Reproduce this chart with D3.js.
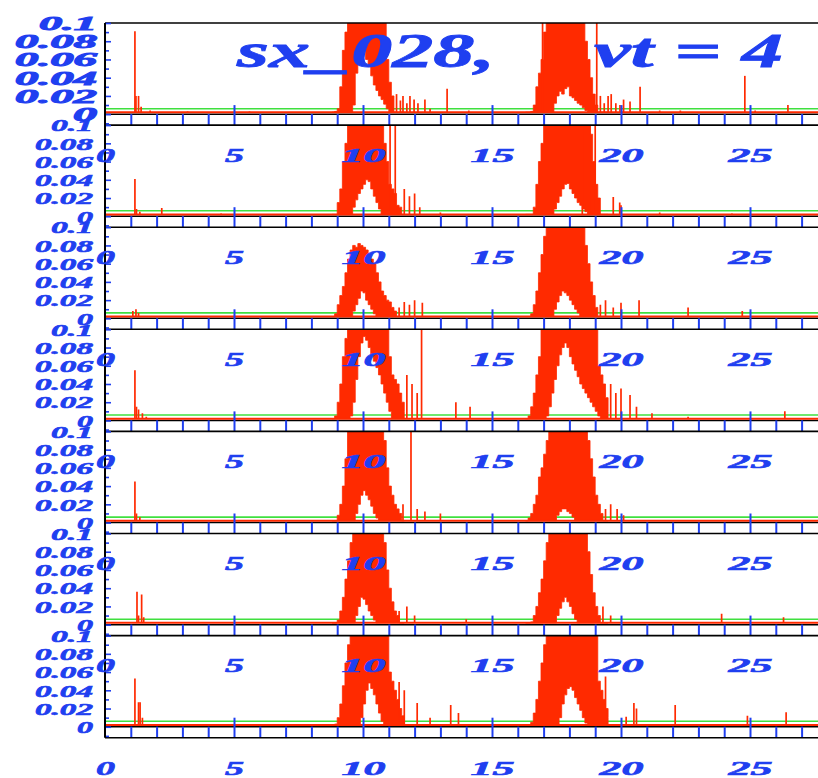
<!DOCTYPE html>
<html><head><meta charset="utf-8">
<script src="https://cdn.jsdelivr.net/npm/d3@7"></script>
<style>body{margin:0;background:#fff}svg{display:block}</style>
</head><body>
<svg id="chart" width="818" height="778"></svg>
<script>
// ---------------- data ----------------
const titleLeft = "sx_028,";
const titleRight = "vt = 4";
const xTickLabels = [0, 5, 10, 15, 20, 25];
const yTickLabels = [0, 0.02, 0.04, 0.06, 0.08, 0.1];
const baselineLevel = 0.002;   // red noise floor
const greenLevel = 0.006;      // green threshold line

const gridA = [8.8,8.9,9.0,9.1,9.2,9.3,9.4,9.5,9.6,9.7,9.8,9.9,10.0,10.1,10.2,10.3,10.4,10.5,10.6,10.7,10.8,10.9,11.0,11.1,11.2,11.3,11.4,11.5,11.6];
const gridB = [16.3,16.4,16.5,16.6,16.7,16.8,16.9,17.0,17.1,17.2,17.3,17.4,17.5,17.6,17.7,17.8,17.9,18.0,18.1,18.2,18.3,18.4,18.5,18.6,18.7,18.8,18.9,19.0,19.1,19.2,19.3,19.4,19.5];

// panel 1
const p1AHi = [0,.003,.006,.03,.07,.09,.12,.12,.12,.12,.12,.12,.12,.12,.12,.12,.12,.12,.12,.12,.12,.06,.035,.02,0,0,0,0,0];
const p1ALo = [0,0,0,0,0,0,0,0,.01,.045,.065,.075,.072,.06,.052,.042,.032,.026,.02,.016,.011,.006,0,0,0,0,0,0,0];
const p1BHi = [0,0,.003,.01,.03,.045,.06,.09,.12,.12,.12,.12,.12,.12,.12,.12,.12,.12,.12,.12,.12,.12,.12,.08,.06,.04,.022,.01,0,0,0,0,0];
const p1BLo = [0,0,0,0,0,0,0,0,0,0,0,.012,.02,.025,.022,.028,.03,.02,.018,.015,.012,.01,.007,.004,0,0,0,0,0,0,0,0,0];
const p1Spikes = [[1.16,.091],[1.2,.02],[1.3,.02],[1.4,.008],[1.75,.004],[3.2,.003],[5.6,.003],[11.3,.022],[11.45,.015],[11.55,.02],[11.7,.012],[11.82,.02],[11.98,.016],[12.13,.012],[12.4,.016],[12.6,.006],[13.26,.028],[14.1,.004],[16.96,.12],[19.06,.12],[19.2,.02],[19.35,.012],[19.5,.02],[19.62,.022],[19.8,.012],[19.96,.01],[20.1,.016],[20.35,.014],[20.74,.03],[21.5,.004],[22.3,.004],[24.8,.042],[25.2,.004],[26.47,.01]];

// panel 2
const p2AHi = [0,0,.015,.03,.06,.08,.12,.12,.12,.12,.12,.12,.12,.12,.12,.12,.12,.12,.12,.12,.08,.06,.035,.03,.025,.012,.01,0,0];
const p2ALo = [0,0,0,0,0,0,0,0,.01,.018,.025,.03,.035,.04,.038,.03,.022,.015,.008,0,0,0,0,0,0,0,0,0,0];
const p2BHi = [0,0,0,.01,.035,.06,.08,.12,.12,.12,.12,.12,.12,.12,.12,.12,.12,.12,.12,.12,.12,.12,.12,.12,.12,.09,.06,.035,.02,0,0,0,0];
const p2BLo = [0,0,0,0,0,0,0,0,0,0,0,.008,.015,.022,.03,.035,.036,.03,.025,.02,.015,.012,.008,.005,0,0,0,0,0,0,0,0,0];
const p2Spikes = [[1.16,.041],[1.22,.008],[1.35,.005],[2.2,.009],[4.5,.003],[11.05,.12],[11.25,.12],[11.6,.03],[11.8,.022],[12.0,.025],[12.2,.01],[13.0,.004],[18.5,.12],[18.8,.12],[19.0,.12],[19.7,.021],[19.95,.015],[20.0,.012],[21.5,.004],[24.3,.003]];

// panel 3
const p3AHi = [0,.005,.015,.025,.035,.05,.065,.075,.08,.078,.082,.08,.078,.075,.07,.065,.06,.05,.04,.03,.025,.02,.018,.012,.008,0,0,0,0];
const p3ALo = [0,0,0,0,0,0,0,0,.008,.015,.022,.03,.028,.02,.015,.01,.005,0,0,0,0,0,0,0,0,0,0,0,0];
const p3BHi = [0,0,.005,.015,.03,.05,.07,.09,.12,.12,.12,.12,.12,.12,.12,.12,.12,.12,.12,.12,.12,.12,.12,.08,.06,.04,.025,.012,0,0,0,0,0];
const p3BLo = [0,0,0,0,0,0,0,0,0,0,0,.01,.018,.025,.03,.028,.025,.02,.015,.01,.006,0,0,0,0,0,0,0,0,0,0,0,0];
const p3Spikes = [[1.08,.008],[1.2,.01],[1.3,.006],[11.4,.012],[11.6,.018],[11.8,.015],[12.0,.02],[12.3,.017],[19.2,.015],[19.4,.02],[19.7,.012],[20.0,.017],[20.7,.02],[22.6,.012],[24.7,.008]];

// panel 4
const p4AHi = [0,.005,.02,.04,.07,.09,.12,.12,.12,.12,.12,.12,.12,.12,.12,.12,.12,.12,.12,.12,.12,.12,.07,.05,.045,.04,.03,.02,.01];
const p4ALo = [0,0,0,0,0,0,0,.005,.02,.045,.07,.085,.092,.088,.08,.072,.065,.058,.05,.04,.03,.02,.01,0,0,0,0,0,0];
const p4BHi = [0,.005,.015,.03,.05,.07,.1,.12,.12,.12,.12,.12,.12,.12,.12,.12,.12,.12,.12,.12,.12,.12,.12,.12,.12,.12,.12,.12,.06,.05,.04,.025,.01];
const p4BLo = [0,0,0,0,0,0,0,0,.005,.015,.03,.045,.06,.072,.08,.085,.08,.07,.062,.055,.048,.04,.035,.03,.025,.02,.015,.01,.005,0,0,0,0];
const p4Spikes = [[1.16,.055],[1.22,.015],[1.3,.012],[1.45,.008],[1.6,.004],[11.7,.05],[11.9,.04],[12.1,.03],[12.27,.12],[13.6,.02],[14.15,.015],[19.6,.04],[19.8,.03],[20.0,.035],[20.35,.028],[20.6,.015],[21.2,.008],[22.6,.004],[26.35,.01]];

// panel 5
const p5AHi = [0,0,.008,.02,.04,.07,.1,.12,.12,.12,.12,.12,.12,.12,.12,.12,.12,.12,.12,.12,.09,.06,.04,.03,.02,.015,.01,0,0];
const p5ALo = [0,0,0,0,0,0,0,0,0,.01,.02,.03,.035,.03,.025,.018,.01,.005,0,0,0,0,0,0,0,0,0,0,0];
const p5BHi = [0,.005,.01,.02,.03,.05,.06,.075,.09,.12,.12,.12,.12,.12,.12,.12,.12,.12,.12,.12,.12,.12,.12,.12,.09,.07,.05,.03,.02,.01,0,0,0];
const p5BLo = [0,0,0,0,0,0,0,0,0,0,0,0,.008,.012,.015,.015,.012,.01,.006,0,0,0,0,0,0,0,0,0,0,0,0,0,0];
const p5Spikes = [[1.16,.045],[1.22,.01],[1.35,.006],[11.55,.02],[11.86,.12],[12.1,.015],[12.4,.012],[13.0,.01],[19.4,.015],[19.6,.02],[19.85,.015],[20.1,.008]];

// panel 6
const p6AHi = [0,0,.005,.015,.03,.05,.07,.09,.12,.12,.12,.12,.12,.12,.12,.12,.12,.12,.12,.12,.09,.06,.04,.025,.015,.01,0,0,0];
const p6ALo = [0,0,0,0,0,0,0,0,0,.01,.02,.03,.028,.022,.015,.01,.005,0,0,0,0,0,0,0,0,0,0,0,0];
const p6BHi = [0,0,.003,.01,.02,.035,.05,.07,.09,.12,.12,.12,.12,.12,.12,.12,.12,.12,.12,.12,.12,.12,.12,.12,.08,.055,.035,.02,.01,0,0,0,0];
const p6BLo = [0,0,0,0,0,0,0,0,0,0,0,0,.01,.018,.025,.03,.025,.02,.012,.006,0,0,0,0,0,0,0,0,0,0,0,0,0];
const p6Spikes = [[1.24,.036],[1.3,.01],[1.42,.033],[1.5,.008],[11.4,.015],[11.7,.02],[12.0,.01],[14.0,.006],[19.3,.02],[19.6,.01],[23.9,.012],[26.3,.008]];

// panel 7
const p7AHi = [0,.003,.01,.025,.045,.07,.09,.11,.12,.12,.12,.12,.12,.12,.12,.12,.12,.12,.12,.12,.12,.12,.06,.05,.04,.03,.02,.012,.008];
const p7ALo = [0,0,0,0,0,0,0,0,0,0,0,.01,.025,.04,.048,.042,.035,.025,.015,.006,0,0,0,0,0,0,0,0,0];
const p7BHi = [0,0,.005,.015,.03,.05,.07,.09,.11,.12,.12,.12,.12,.12,.12,.12,.12,.12,.12,.12,.12,.12,.12,.12,.12,.12,.12,.12,.05,.04,.03,.02,.01];
const p7BLo = [0,0,0,0,0,0,0,0,0,0,0,0,0,.01,.025,.035,.042,.044,.04,.032,.025,.018,.01,.004,0,0,0,0,0,0,0,0,0];
const p7Spikes = [[1.16,.053],[1.3,.027],[1.36,.027],[1.45,.01],[11.4,.049],[11.6,.04],[12.1,.026],[12.6,.01],[13.4,.024],[13.7,.015],[19.4,.055],[20.2,.011],[20.5,.026],[20.6,.02],[22.1,.024],[24.9,.012],[26.4,.016]];

const panels = [
  {aHi:p1AHi,aLo:p1ALo,bHi:p1BHi,bLo:p1BLo,spikes:p1Spikes},
  {aHi:p2AHi,aLo:p2ALo,bHi:p2BHi,bLo:p2BLo,spikes:p2Spikes},
  {aHi:p3AHi,aLo:p3ALo,bHi:p3BHi,bLo:p3BLo,spikes:p3Spikes},
  {aHi:p4AHi,aLo:p4ALo,bHi:p4BHi,bLo:p4BLo,spikes:p4Spikes},
  {aHi:p5AHi,aLo:p5ALo,bHi:p5BHi,bLo:p5BLo,spikes:p5Spikes},
  {aHi:p6AHi,aLo:p6ALo,bHi:p6BHi,bLo:p6BLo,spikes:p6Spikes},
  {aHi:p7AHi,aLo:p7ALo,bHi:p7BHi,bLo:p7BLo,spikes:p7Spikes}
];

// ---------------- layout ----------------
const plotLeft = 105, pxPerUnit = 25.8;
const xDomain = [0, 28];
const panelTop = 23, panelH = 102.1;
const yDomain = [-0.012, 0.1];
const RED = "#ff2a00", BLUE = "#1f3ff0", GREEN = "#3fe03f";
const FONT = "'Liberation Serif', 'Times New Roman', serif";

const svg = d3.select("#chart");
const x = d3.scaleLinear().domain(xDomain).range([plotLeft, plotLeft + pxPerUnit * (xDomain[1]-xDomain[0])]);
const plotRight = x(xDomain[1]);
const allX = d3.range(0, 29, 1);

// width of a stretched label: digits and dots
function labelWidth(s, dw, pw) {
  let w = 0;
  for (const c of s) w += (c === ".") ? pw : dw;
  return w;
}
function styleLabel(sel, fs) {
  sel.attr("fill", BLUE).attr("font-family", FONT).attr("font-weight", "bold")
    .attr("font-style", "italic").attr("font-size", fs)
    .attr("stroke", BLUE).attr("stroke-width", 0.6)
    .attr("lengthAdjust", "spacingAndGlyphs");
}

const layerData = svg.append("g");
const layerAxes = svg.append("g");
const layerText = svg.append("g");

panels.forEach((p, i) => {
  const top = panelTop + i * panelH, bottom = top + panelH;
  const y = d3.scaleLinear().domain(yDomain).range([bottom, top]);
  const cid = "clip" + i;
  svg.append("clipPath").attr("id", cid).append("rect")
    .attr("x", plotLeft).attr("y", top).attr("width", plotRight - plotLeft).attr("height", panelH);
  const g = layerData.append("g").attr("clip-path", `url(#${cid})`);

  // green threshold
  g.append("line").attr("x1", plotLeft).attr("x2", plotRight)
    .attr("y1", y(greenLevel)).attr("y2", y(greenLevel))
    .attr("stroke", GREEN).attr("stroke-width", 1.6);

  const area = d3.area()
    .x(d => x(d[0]))
    .y0(d => y(Math.max(d[1], baselineLevel)))
    .y1(d => y(Math.max(d[2], baselineLevel)))
    .curve(d3.curveStepAfter);
  const dA = gridA.map((gx, j) => [gx, p.aLo[j], p.aHi[j]]);
  const dB = gridB.map((gx, j) => [gx, p.bLo[j], p.bHi[j]]);
  [dA, dB].forEach(d => {
    g.append("path").datum(d).attr("d", area).attr("fill", RED)
      .attr("stroke", RED).attr("stroke-width", 0.8);
  });

  // spikes
  g.selectAll(".spike").data(p.spikes).join("line")
    .attr("x1", d => x(d[0])).attr("x2", d => x(d[0]))
    .attr("y1", y(baselineLevel)).attr("y2", d => y(d[1]))
    .attr("stroke", RED).attr("stroke-width", 1.7);

  // zero line and red floor
  g.append("line").attr("x1", plotLeft).attr("x2", plotRight)
    .attr("y1", y(0)).attr("y2", y(0)).attr("stroke", "#000").attr("stroke-width", 1.5);
  g.append("line").attr("x1", plotLeft).attr("x2", plotRight)
    .attr("y1", y(baselineLevel)).attr("y2", y(baselineLevel)).attr("stroke", RED).attr("stroke-width", 2);

  // bottom axis ticks (pointing up, blue)
  const minorAxis = d3.axisBottom(x).tickValues(allX.filter(v => v % 5 !== 0)).tickSize(-11).tickFormat(() => "");
  const majorAxis = d3.axisBottom(x).tickValues(allX.filter(v => v % 5 === 0 && v > 0)).tickSize(-20).tickFormat(() => "");
  [minorAxis, majorAxis].forEach(ax => {
    const ga = layerAxes.append("g").attr("transform", `translate(0,${bottom})`).call(ax);
    ga.select(".domain").remove();
    ga.selectAll("text").remove();
    ga.selectAll("line").attr("stroke", BLUE).attr("stroke-width", 2);
  });
  layerAxes.append("line").attr("x1", plotLeft).attr("x2", plotRight).attr("y1", bottom).attr("y2", bottom)
    .attr("stroke", "#000").attr("stroke-width", 1.6);
  if (i === 0) {
    layerAxes.append("line").attr("x1", plotLeft).attr("x2", plotRight).attr("y1", top).attr("y2", top)
      .attr("stroke", "#000").attr("stroke-width", 1.6);
  }

  // left axis ticks
  const yMinor = d3.axisLeft(y).tickValues([-0.01,0.01,0.03,0.05,0.07,0.09]).tickSize(-4).tickFormat(() => "");
  const yMajor = d3.axisLeft(y).tickValues(yTickLabels).tickSize(-6).tickFormat(() => "");
  [yMinor, yMajor].forEach(ax => {
    const ga = layerAxes.append("g").attr("transform", `translate(${plotLeft},0)`).call(ax);
    ga.select(".domain").remove();
    ga.selectAll("text").remove();
    ga.selectAll("line").attr("stroke", BLUE).attr("stroke-width", 1.6);
  });

  // y labels
  const big = i === 0;
  const yFs = big ? 18 : 16, yRight = big ? 97 : 93;
  const dw = big ? 24 : 16, pw = 10;
  const yLab = d3.axisLeft(y).tickValues(yTickLabels).tickSize(0).tickFormat(d => String(d));
  const gl = layerText.append("g").attr("transform", `translate(${plotLeft},0)`).call(yLab);
  gl.select(".domain").remove();
  gl.selectAll("text").attr("x", yRight - plotLeft).attr("dy", "0.36em").attr("text-anchor", "end")
    .call(styleLabel, yFs)
    .attr("stroke-width", big ? 0.9 : 0.6)
    .attr("textLength", d => labelWidth(String(d), dw, pw));

  // x labels (below this panel)
  const xLab = d3.axisBottom(x).tickValues(xTickLabels).tickSize(0).tickFormat(d => String(d));
  const gx = layerText.append("g").attr("transform", `translate(0,${bottom + 30})`).call(xLab);
  gx.select(".domain").remove();
  gx.selectAll("text").attr("y", 0).attr("dy", "0.36em").attr("text-anchor", "middle")
    .call(styleLabel, 19)
    .attr("textLength", d => String(d).length > 1 ? 44 : 19);
});

// left axis line
layerAxes.append("line").attr("x1", plotLeft).attr("x2", plotLeft)
  .attr("y1", panelTop).attr("y2", panelTop + 7 * panelH)
  .attr("stroke", "#000").attr("stroke-width", 2);

// title
const titleG = layerText.append("g").attr("fill", BLUE).attr("stroke", BLUE).attr("stroke-width", 0.8)
  .attr("font-family", FONT).attr("font-weight", "bold").attr("font-style", "italic").attr("font-size", 48);
titleG.append("text").attr("x", 237).attr("y", 67).attr("textLength", 258)
  .attr("lengthAdjust", "spacingAndGlyphs").text(titleLeft);
titleG.append("text").attr("x", 594).attr("y", 67).attr("textLength", 189)
  .attr("lengthAdjust", "spacingAndGlyphs").text(titleRight);
</script>
</body></html>
